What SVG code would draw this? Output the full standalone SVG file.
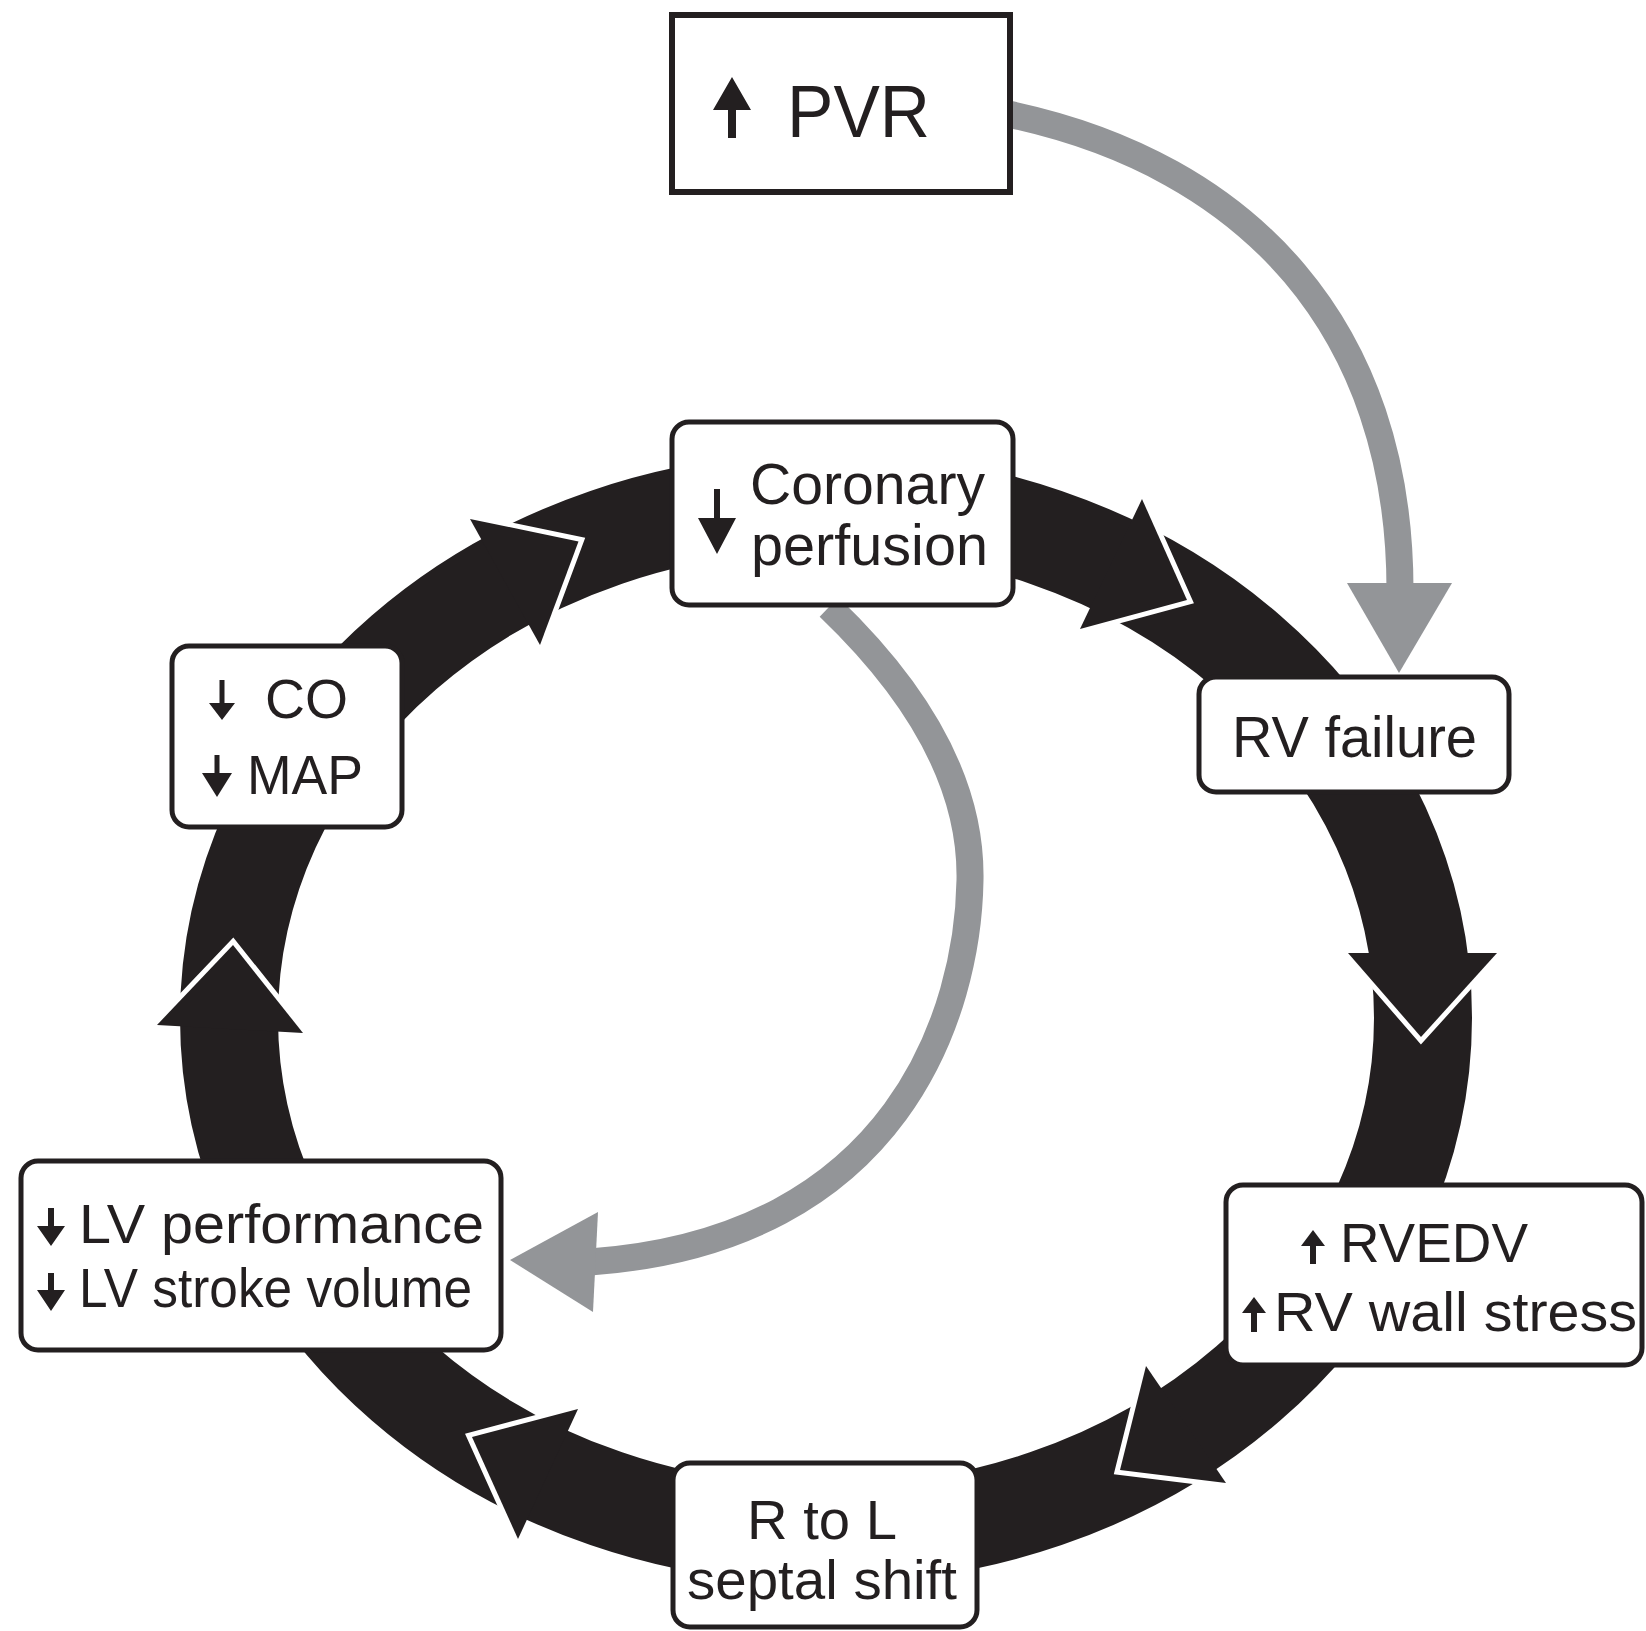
<svg xmlns="http://www.w3.org/2000/svg" width="1646" height="1631" viewBox="0 0 1646 1631">
<style>
.box{fill:#fff;stroke:#231f20;stroke-width:5}
.t{font-family:"Liberation Sans",Arial,Helvetica,sans-serif;fill:#231f20;font-size:56px}
.ring{fill:none;stroke:#231f20;stroke-width:98}
.head{fill:#231f20}
.edge{fill:none;stroke:#fff;stroke-width:10;stroke-linejoin:miter;stroke-miterlimit:10}
.gray{fill:none;stroke:#939598;stroke-width:27}
.ghead{fill:#939598}
.sym{fill:#231f20}
</style>
<rect width="1646" height="1631" fill="#fff"/>
<g id="connectors">
  <ellipse class="ring" cx="826" cy="1018" rx="597" ry="517"/>
  <g id="ring-arrow-A">
    <polyline class="edge" points="470,519 578.5,541.4 540,645"/>
    <polygon class="head" points="470,519 578.5,541.4 540,645"/>
  </g>
  <g id="ring-arrow-B">
    <polyline class="edge" points="1142,499 1187,600 1080,629"/>
    <polygon class="head" points="1142,499 1187,600 1080,629"/>
  </g>
  <g id="ring-arrow-C">
    <polyline class="edge" points="1348,953 1421,1037 1497,953"/>
    <polygon class="head" points="1348,953 1421,1037 1497,953"/>
  </g>
  <g id="ring-arrow-D">
    <polyline class="edge" points="1146,1366 1120,1470 1226,1483"/>
    <polygon class="head" points="1146,1366 1120,1470 1226,1483"/>
  </g>
  <g id="ring-arrow-E">
    <polyline class="edge" points="578,1409 472,1437 518,1539"/>
    <polygon class="head" points="578,1409 472,1437 518,1539"/>
  </g>
  <g id="ring-arrow-F">
    <polyline class="edge" points="157,1025 233,945 303,1033"/>
    <polygon class="head" points="157,1025 233,945 303,1033"/>
  </g>
  <g id="pvr-to-rvfailure">
    <path class="gray" d="M1008,114 C1250,165 1400,330 1400,590"/>
    <polygon class="ghead" points="1347,583 1452,583 1399,673"/>
  </g>
  <g id="coronary-to-lv">
    <path class="gray" d="M829,607 C900,675 972,770 970,880 C968,1010 900,1240 590,1262"/>
    <polygon class="ghead" points="598,1212 593,1312 510,1260"/>
  </g>
</g>
<g id="node-pvr">
  <rect x="672" y="15" width="338" height="177" fill="#fff" stroke="#231f20" stroke-width="6"/>
  <path class="sym" d="M732,77 L751,110 L736,110 L736,138 L728,138 L728,110 L713,110 Z"/>
  <text class="t" x="787" y="137" style="font-size:74px" textLength="143" lengthAdjust="spacingAndGlyphs">PVR</text>
</g>
<g id="node-coronary">
  <rect class="box" x="672" y="422" width="341" height="183" rx="17"/>
  <path class="sym" d="M714,489 L720,489 L720,518 L736,518 L717,554 L698,518 L714,518 Z"/>
  <text class="t" x="750" y="504" style="font-size:58px" textLength="235" lengthAdjust="spacingAndGlyphs">Coronary</text>
  <text class="t" x="751" y="565" style="font-size:58px" textLength="237" lengthAdjust="spacingAndGlyphs">perfusion</text>
</g>
<g id="node-co-map">
  <rect class="box" x="172" y="646" width="230" height="181" rx="17"/>
  <path class="sym" d="M219.5,680 L224.5,680 L224.5,703 L235,703 L222,720 L209,703 L219.5,703 Z"/>
  <text class="t" x="265" y="718" textLength="83" lengthAdjust="spacingAndGlyphs">CO</text>
  <path class="sym" d="M214.5,755 L219.5,755 L219.5,773 L232,773 L217,797 L202,773 L214.5,773 Z"/>
  <text class="t" x="247" y="794" textLength="116" lengthAdjust="spacingAndGlyphs">MAP</text>
</g>
<g id="node-rv-failure">
  <rect class="box" x="1199" y="677" width="310" height="115" rx="17"/>
  <text class="t" x="1232" y="757" style="font-size:58px" textLength="245" lengthAdjust="spacingAndGlyphs">RV failure</text>
</g>
<g id="node-rvedv">
  <rect class="box" x="1226" y="1185" width="416" height="180" rx="17"/>
  <path class="sym" d="M1313,1230 L1325,1246 L1316,1246 L1316,1264 L1310,1264 L1310,1246 L1301,1246 Z"/>
  <text class="t" x="1340" y="1262" textLength="188" lengthAdjust="spacingAndGlyphs">RVEDV</text>
  <path class="sym" d="M1254,1297 L1266,1313 L1257,1313 L1257,1332 L1251,1332 L1251,1313 L1242,1313 Z"/>
  <text class="t" x="1274" y="1331" textLength="363" lengthAdjust="spacingAndGlyphs">RV wall stress</text>
</g>
<g id="node-lv">
  <rect class="box" x="21" y="1161" width="480" height="189" rx="17"/>
  <path class="sym" d="M48,1208 L54,1208 L54,1226 L65,1226 L51,1246 L37,1226 L48,1226 Z"/>
  <text class="t" x="79" y="1243" textLength="405" lengthAdjust="spacingAndGlyphs">LV performance</text>
  <path class="sym" d="M48,1273 L54,1273 L54,1290 L65,1290 L51,1311 L37,1290 L48,1290 Z"/>
  <text class="t" x="79" y="1307" textLength="393" lengthAdjust="spacingAndGlyphs">LV stroke volume</text>
</g>
<g id="node-septal">
  <rect class="box" x="673" y="1463" width="304" height="164" rx="17"/>
  <text class="t" x="747" y="1539" textLength="150" lengthAdjust="spacingAndGlyphs">R to L</text>
  <text class="t" x="687" y="1599" textLength="270" lengthAdjust="spacingAndGlyphs">septal shift</text>
</g>
</svg>
